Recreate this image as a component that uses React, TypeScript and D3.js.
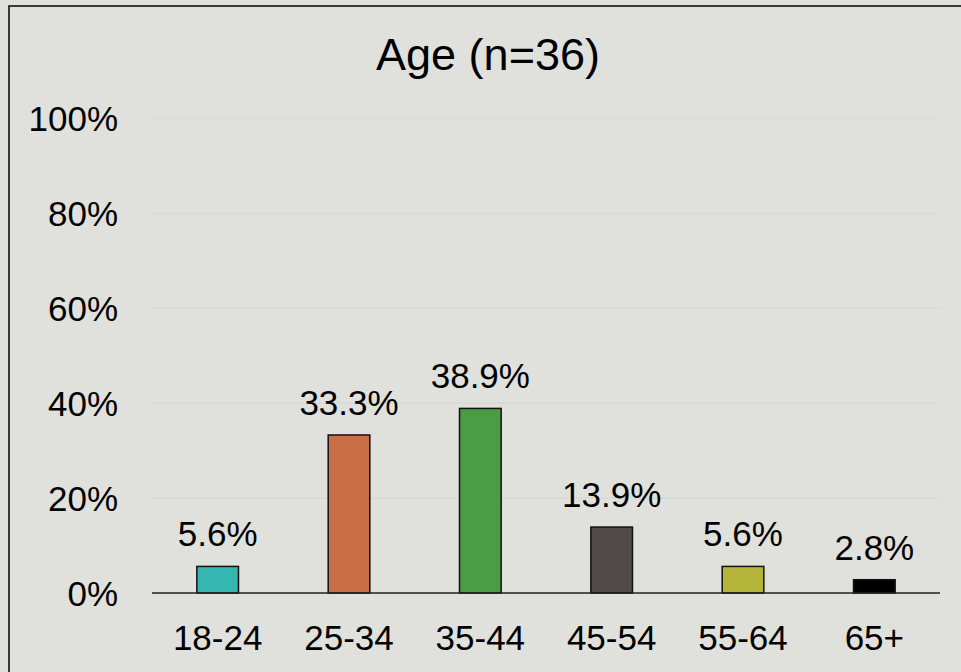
import React from "react";
import * as d3 from "d3";

const categories = ["18-24", "25-34", "35-44", "45-54", "55-64", "65+"];
const values = [5.6, 33.3, 38.9, 13.9, 5.6, 2.8];
const barColors = ["#35b6b1", "#c86f48", "#4a9c45", "#524a4a", "#b4b53a", "#000000"];
const yTicks = [0, 20, 40, 60, 80, 100];
const title = "Age (n=36)";

const W = 961;
const H = 672;
const FONT = "'Liberation Sans', Arial, sans-serif";

export default function App() {
  const x = d3.scaleBand<string>().domain(categories).range([152, 940]).paddingInner(0).paddingOuter(0);
  const y = d3.scaleLinear().domain([0, 100]).range([593, 118.5]);
  const barW = x.bandwidth() * 0.317;

  return (
    <svg
      width={W}
      height={H}
      style={{ position: "fixed", left: 0, top: 0, display: "block" }}
    >
      <rect x={0} y={0} width={W} height={H} fill="#e0e1dc" />
      {/* chart frame, running past the right and bottom edges */}
      <rect x={9} y={6} width={W + 20} height={H + 20} fill="none" stroke="#111" strokeWidth={1.6} />

      <text x={488} y={70} textAnchor="middle" fontFamily={FONT} fontSize={45} fill="#000">
        {title}
      </text>

      {yTicks.map((t) => (
        <g key={t}>
          {t > 0 && (
            <line x1={152} x2={940} y1={y(t)} y2={y(t)} stroke="#d9d9d6" strokeWidth={1.5} />
          )}
          <text x={118} y={y(t) + 12.5} textAnchor="end" fontFamily={FONT} fontSize={35} fill="#000">
            {t}%
          </text>
        </g>
      ))}

      {categories.map((c, i) => {
        const cx = (x(c) as number) + x.bandwidth() / 2;
        const top = y(values[i]);
        return (
          <g key={c}>
            <rect
              x={cx - barW / 2}
              y={top}
              width={barW}
              height={y(0) - top}
              fill={barColors[i]}
              stroke="#111"
              strokeWidth={1.5}
            />
            <text x={cx} y={top - 20} textAnchor="middle" fontFamily={FONT} fontSize={35} fill="#000">
              {values[i].toFixed(1)}%
            </text>
            <text x={cx} y={650} textAnchor="middle" fontFamily={FONT} fontSize={35} fill="#000">
              {c}
            </text>
          </g>
        );
      })}

      <line x1={152} x2={940} y1={y(0)} y2={y(0)} stroke="#222" strokeWidth={1.6} />
    </svg>
  );
}
